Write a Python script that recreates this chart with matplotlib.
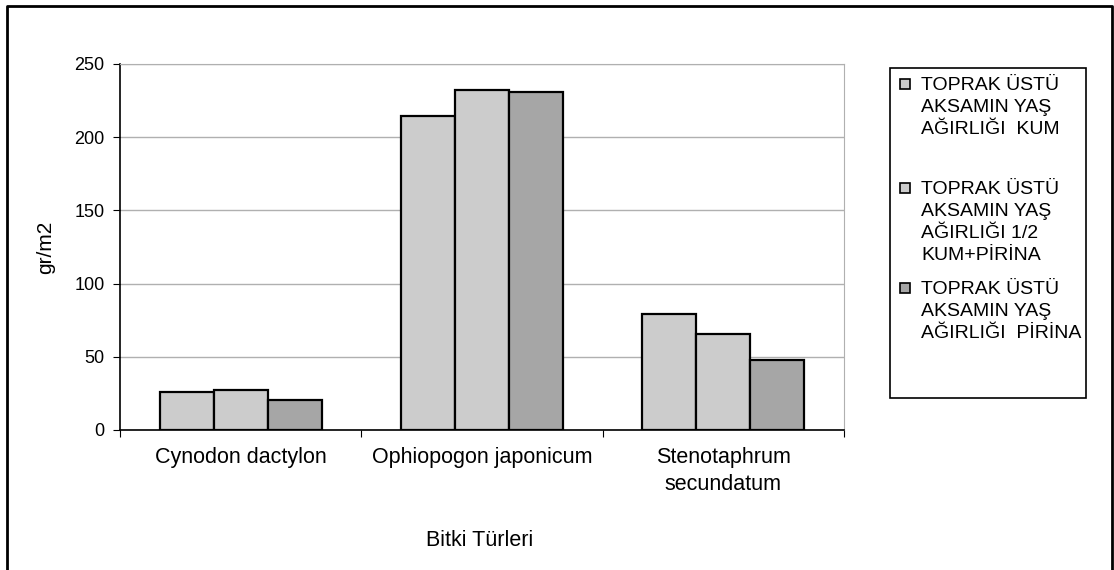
import matplotlib.pyplot as plt
from matplotlib.lines import Line2D
from matplotlib.patches import Rectangle
import numpy as np

plt.rcParams['font.family'] = ['Liberation Sans', 'DejaVu Sans']

categories = ['Cynodon dactylon', 'Ophiopogon japonicum', 'Stenotaphrum\nsecundatum']
series = ['TOPRAK ÜSTÜ\nAKSAMIN YAŞ\nAĞIRLIĞI  KUM',
          'TOPRAK ÜSTÜ\nAKSAMIN YAŞ\nAĞIRLIĞI 1/2\nKUM+PİRİNA',
          'TOPRAK ÜSTÜ\nAKSAMIN YAŞ\nAĞIRLIĞI  PİRİNA']
kum = [25.9, 214.6, 79.3]
yarim = [27.2, 232.3, 65.6]
pirina = [20.4, 231.0, 47.6]
values = [kum, yarim, pirina]
colors = ['#cccccc', '#cccccc', '#a6a6a6']

fig = plt.figure(figsize=(11.14, 5.70), dpi=100)
ax = fig.add_axes([120/1114, 1-430/570, 724/1114, 366/570])

x = np.arange(len(categories))
w = 0.224
for i, vals in enumerate(values):
    ax.bar(x + (i-1)*w, vals, w, color=colors[i], edgecolor='black', linewidth=1.6, zorder=3)

ax.set_xlim(-0.5, 2.5)
ax.set_ylim(0, 250)
ax.set_yticks(range(0, 251, 50))
ax.yaxis.grid(True, color='#b0b0b0', linewidth=1, zorder=0)
ax.set_xticks([-0.5, 0.5, 1.5, 2.5])
ax.set_xticklabels([])
ax.set_xticks(x, minor=True)
ax.set_xticklabels(categories, minor=True, fontsize=15.5, linespacing=1.4)
ax.tick_params(axis='x', which='minor', length=0, pad=12)
ax.tick_params(axis='x', which='major', length=5, direction='out', color='black')
ax.tick_params(axis='y', length=5, labelsize=13, pad=6)
ax.spines['top'].set_color('#b0b0b0')
ax.spines['right'].set_color('#b0b0b0')
ax.spines['left'].set_linewidth(1.2)
ax.spines['bottom'].set_linewidth(1.2)
ax.set_ylabel('gr/m2', fontsize=15, labelpad=14)
fig.text(480/1114, 1-540/570, 'Bitki Türleri', fontsize=15.5, ha='center', va='center')

# outer frame
fig.add_artist(Line2D([7/1114, 7/1114, 1112/1114, 1112/1114], [0, 1-6/570, 1-6/570, 0],
                      color='black', linewidth=2, transform=fig.transFigure))

# legend box
fig.add_artist(Rectangle((890/1114, 1-398/570), 196/1114, 330/570, transform=fig.transFigure,
                         facecolor='white', edgecolor='black', linewidth=1.2))
ys = [84, 188, 288]
for i, name in enumerate(series):
    fig.add_artist(Rectangle((900/1114, 1-(ys[i]+5)/570), 10/1114, 10/570, transform=fig.transFigure,
                             facecolor=colors[i], edgecolor='black', linewidth=1.2))
    fig.text(921/1114, 1-(ys[i]-7)/570, name, fontsize=14, ha='left', va='top', linespacing=1.38)

fig.savefig('out.png', dpi=100)
